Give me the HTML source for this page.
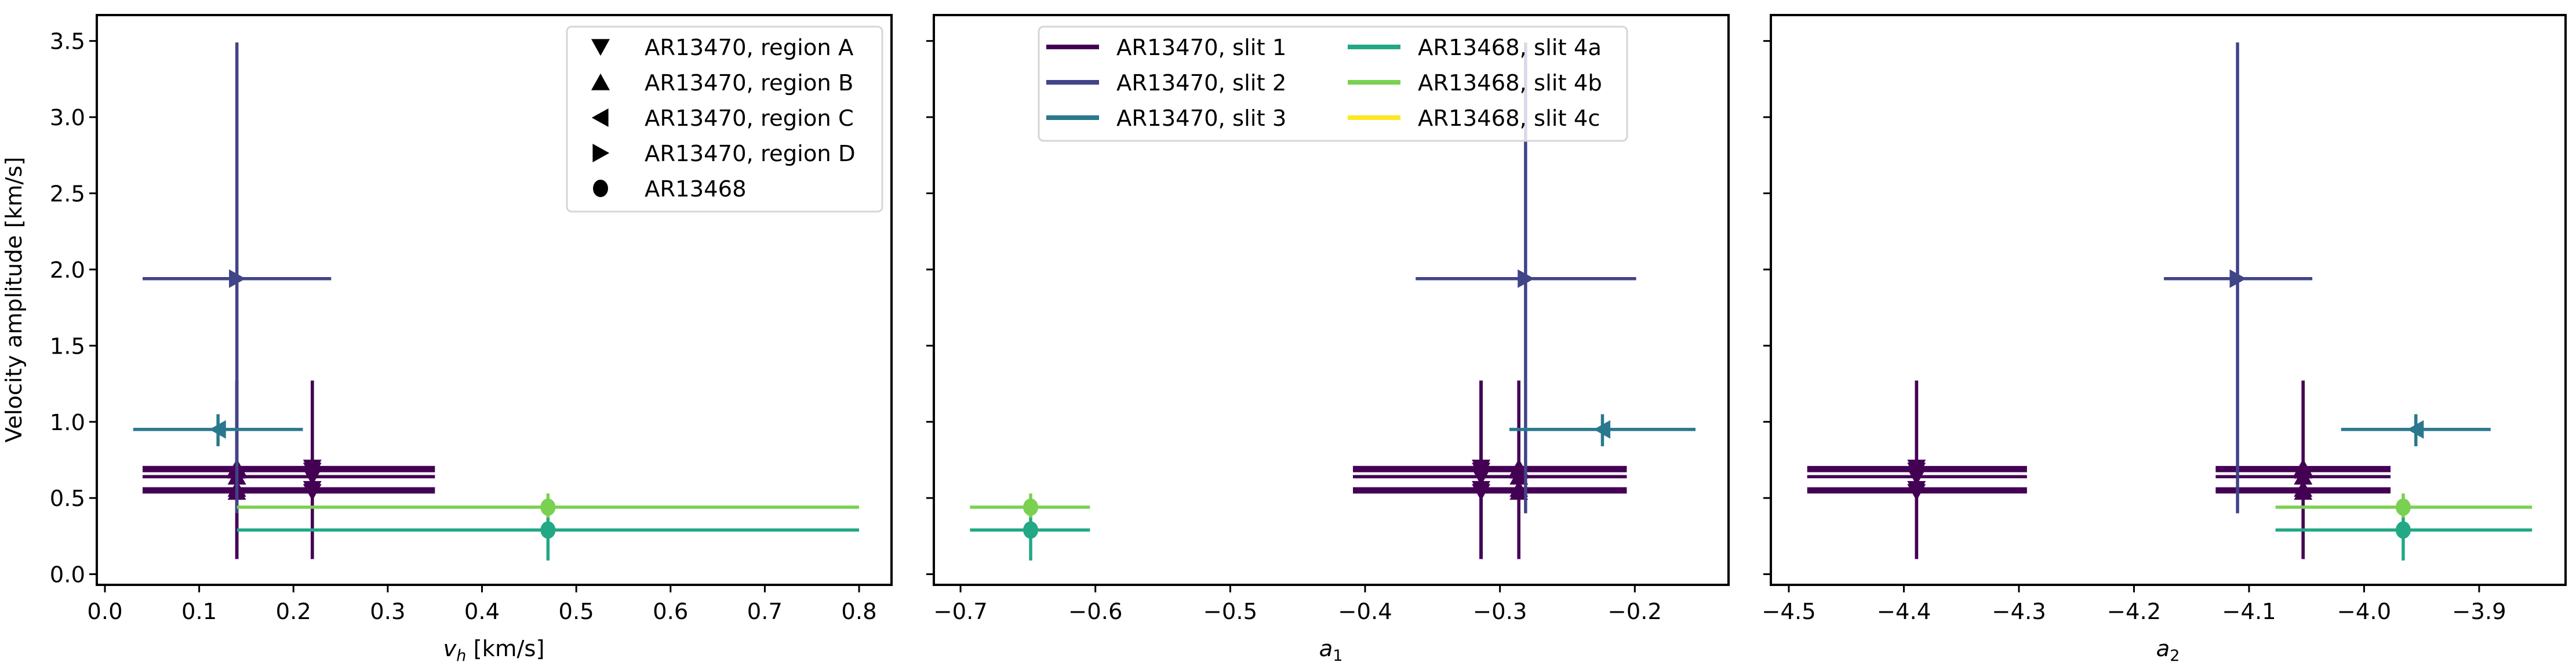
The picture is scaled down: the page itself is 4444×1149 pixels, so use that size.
<!DOCTYPE html>
<html><head><meta charset="utf-8"><style>
html,body{margin:0;padding:0;background:#fff;}
svg{display:block;font-family:"DejaVu Sans","Liberation Sans",sans-serif;}
</style></head><body>
<svg id="fig" width="4444" height="1149" viewBox="0 0 4444 1149" xmlns="http://www.w3.org/2000/svg"></svg>
<script>
// ---- data ----
const pointSlit   = [0,0,0,0,0, 0,0,0,0,0, 1, 2, 3, 4];
const pointMarker = ['v','v','v','v','v','^','^','^','^','^','>','<','o','o'];
const pointY      = [0.70,0.68,0.64,0.56,0.54, 0.70,0.68,0.64,0.56,0.54, 1.94, 0.95, 0.29, 0.44];
const pointYlo    = [0.10,0.10,0.10,0.10,0.10, 0.10,0.10,0.10,0.10,0.10, 0.40, 0.84, 0.09, 0.37];
const pointYhi    = [1.27,1.27,1.27,1.27,1.27, 1.27,1.27,1.27,1.27,1.27, 3.49, 1.05, 0.49, 0.53];
const pointVh     = [0.22,0.22,0.22,0.22,0.22, 0.14,0.14,0.14,0.14,0.14, 0.14, 0.12, 0.47, 0.47];
const pointVhLo   = [0.04,0.04,0.04,0.04,0.04, 0.04,0.04,0.04,0.04,0.04, 0.04, 0.03, 0.14, 0.14];
const pointVhHi   = [0.35,0.35,0.35,0.35,0.35, 0.35,0.35,0.35,0.35,0.35, 0.24, 0.21, 0.80, 0.80];
const pointA1     = [-0.314,-0.314,-0.314,-0.314,-0.314, -0.286,-0.286,-0.286,-0.286,-0.286, -0.281, -0.224, -0.648, -0.648];
const pointA1Lo   = [-0.409,-0.409,-0.409,-0.409,-0.409, -0.409,-0.409,-0.409,-0.409,-0.409, -0.3625, -0.293, -0.693, -0.693];
const pointA1Hi   = [-0.206,-0.206,-0.206,-0.206,-0.206, -0.206,-0.206,-0.206,-0.206,-0.206, -0.199, -0.155, -0.604, -0.604];
const pointA2     = [-4.389,-4.389,-4.389,-4.389,-4.389, -4.053,-4.053,-4.053,-4.053,-4.053, -4.110, -3.955, -3.966, -3.966];
const pointA2Lo   = [-4.484,-4.484,-4.484,-4.484,-4.484, -4.129,-4.129,-4.129,-4.129,-4.129, -4.174, -4.020, -4.077, -4.077];
const pointA2Hi   = [-4.293,-4.293,-4.293,-4.293,-4.293, -3.977,-3.977,-3.977,-3.977,-3.977, -4.045, -3.890, -3.854, -3.854];
const slitLabels  = ['AR13470, slit 1','AR13470, slit 2','AR13470, slit 3','AR13468, slit 4a','AR13468, slit 4b','AR13468, slit 4c'];
const slitColors  = ['#440154','#414487','#2a788e','#22a884','#7ad151','#fde725'];
const markerLabels= ['AR13470, region A','AR13470, region B','AR13470, region C','AR13470, region D','AR13468'];
const markerKinds = ['v','^','<','>','o'];
const yTicks      = [0.0,0.5,1.0,1.5,2.0,2.5,3.0,3.5];
const vhTicks     = [0,0.1,0.2,0.3,0.4,0.5,0.6,0.7,0.8];
const a1Ticks     = [-0.7,-0.6,-0.5,-0.4,-0.3,-0.2];
const a2Ticks     = [-4.5,-4.4,-4.3,-4.2,-4.1,-4.0,-3.9];

const NS='http://www.w3.org/2000/svg';
const svg=document.getElementById('fig');
function mk(tag,attrs,parent){const e=document.createElementNS(NS,tag);for(const k in attrs)e.setAttribute(k,attrs[k]);(parent||svg).appendChild(e);return e;}

const TOP=26,BOT=1009,YMIN=-0.07,YMAX=3.67;
function ys(v){return BOT-(v-YMIN)/(YMAX-YMIN)*(BOT-TOP);}

const panels=[
 {left:167,right:1538,xmin:-0.0086,xmax:0.8344,ticks:vhTicks,fmt:v=>v.toFixed(1),x:pointVh,lo:pointVhLo,hi:pointVhHi,label:'vh',yl:true},
 {left:1611,right:2982,xmin:-0.7198,xmax:-0.1305,ticks:a1Ticks,fmt:v=>(v<0?'\u2212':'')+Math.abs(v).toFixed(1),x:pointA1,lo:pointA1Lo,hi:pointA1Hi,label:'a1'},
 {left:3055,right:4426,xmin:-4.5156,xmax:-3.8249,ticks:a2Ticks,fmt:v=>(v<0?'\u2212':'')+Math.abs(v).toFixed(1),x:pointA2,lo:pointA2Lo,hi:pointA2Hi,label:'a2'}
];

function marker(kind,cx,cy,color,parent){
  const s=16;let e;
  if(kind==='o'){e=mk('ellipse',{cx:cx,cy:cy,rx:13,ry:15,fill:color},parent);}
  else{
    let p;
    if(kind==='v')p=[[cx-s,cy-s*0.85],[cx+s,cy-s*0.85],[cx,cy+s*0.95]];
    if(kind==='^')p=[[cx-s,cy+s*0.85],[cx+s,cy+s*0.85],[cx,cy-s*0.95]];
    if(kind==='<')p=[[cx+s*0.85,cy-s],[cx+s*0.85,cy+s],[cx-s*0.95,cy]];
    if(kind==='>')p=[[cx-s*0.85,cy-s],[cx-s*0.85,cy+s],[cx+s*0.95,cy]];
    e=mk('polygon',{points:p.map(q=>q.join(',')).join(' '),fill:color},parent);
  }
  return e;
}

panels.forEach((P,pi)=>{
  const xs=v=>P.left+(v-P.xmin)/(P.xmax-P.xmin)*(P.right-P.left);
  const g=mk('g',{});
  
  
  for(let i=0;i<pointY.length;i++){
    const c=slitColors[pointSlit[i]];
    const pg=mk('g',{},g);
    
    
    mk('line',{x1:xs(P.lo[i]),x2:xs(P.hi[i]),y1:ys(pointY[i]),y2:ys(pointY[i]),stroke:c,'stroke-width':5.5},pg);
    mk('line',{x1:xs(P.x[i]),x2:xs(P.x[i]),y1:ys(pointYlo[i]),y2:ys(pointYhi[i]),stroke:c,'stroke-width':5.5},pg);
    marker(pointMarker[i],xs(P.x[i]),ys(pointY[i]),c,pg);
  }
  const fr=mk('rect',{x:P.left,y:TOP,width:P.right-P.left,height:BOT-TOP,fill:'none',stroke:'#000','stroke-width':4},g);
  
  
  P.ticks.forEach(t=>{
    const x=xs(t);
    mk('line',{x1:x,x2:x,y1:BOT,y2:BOT+13,stroke:'#000','stroke-width':3},g);
    const tx=mk('text',{x:x,y:1068,'font-size':38.5,'text-anchor':'middle',fill:'#000'},g);
    tx.textContent=P.fmt(t);
    
    
  });
  yTicks.forEach(t=>{
    const y=ys(t);
    mk('line',{x1:P.left-13,x2:P.left,y1:y,y2:y,stroke:'#000','stroke-width':3},g);
    if(P.yl){
      const tx=mk('text',{x:P.left-20,y:y+14,'font-size':38.5,'text-anchor':'end',fill:'#000'},g);
      tx.textContent=t.toFixed(1);
      
      
    }
  });
});

let t;
t=mk('text',{x:37,y:517,'font-size':38.5,'text-anchor':'middle',transform:'rotate(-90 37 517)'});
t.textContent='Velocity amplitude [km/s]';


t=mk('text',{x:852,y:1132,'font-size':38.5,'text-anchor':'middle'});
t.innerHTML='<tspan font-style="italic">v</tspan><tspan font-style="italic" font-size="27" dy="8">h</tspan><tspan dy="-8"> [km/s]</tspan>';


t=mk('text',{x:2296,y:1132,'font-size':38.5,'text-anchor':'middle'});
t.innerHTML='<tspan font-style="italic">a</tspan><tspan font-size="27" dy="8">1</tspan>';


t=mk('text',{x:3740,y:1132,'font-size':38.5,'text-anchor':'middle'});
t.innerHTML='<tspan font-style="italic">a</tspan><tspan font-size="27" dy="8">2</tspan>';



const lg1=mk('g',{});


mk('rect',{x:978,y:46,width:544,height:319,rx:8,fill:'#fff','fill-opacity':0.8,stroke:'#d6d6d6','stroke-width':3},lg1);
markerLabels.forEach((lab,i)=>{
  const y=81+i*61;
  marker(markerKinds[i],1036,y,'#000',lg1);
  const tx=mk('text',{x:1112,y:y+14,'font-size':38.5},lg1);
  tx.textContent=lab;
  
  
});
const lg2=mk('g',{});


mk('rect',{x:1792,y:46,width:1015,height:197,rx:8,fill:'#fff','fill-opacity':0.8,stroke:'#d6d6d6','stroke-width':3},lg2);
slitLabels.forEach((lab,i)=>{
  const col=Math.floor(i/3),row=i%3;
  const y=81+row*61;
  const lx=col?2325:1805, tx0=col?2446:1926;
  mk('line',{x1:lx,x2:lx+91,y1:y,y2:y,stroke:slitColors[i],'stroke-width':8},lg2);
  const tx=mk('text',{x:tx0,y:y+14,'font-size':38.5},lg2);
  tx.textContent=lab;
  
  
});
</script>
</body></html>
